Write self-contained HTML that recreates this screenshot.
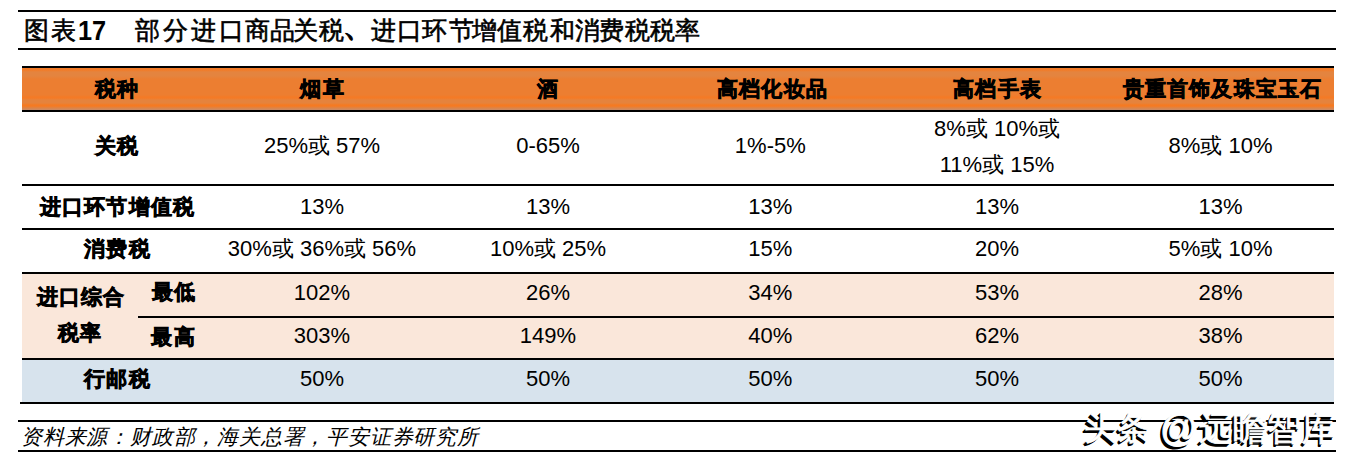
<!DOCTYPE html>
<html><head><meta charset="utf-8">
<style>
html,body{margin:0;padding:0;background:#fff;}
body{width:1346px;height:461px;position:relative;overflow:hidden;font-family:"Liberation Sans",sans-serif;color:#000;}
.ln{position:absolute;}
.c{position:absolute;height:40px;display:flex;align-items:center;justify-content:center;white-space:nowrap;}
.d{font-size:22px;}
.h{font-size:21px;font-weight:bold;-webkit-text-stroke:0.7px #000;letter-spacing:1.1px;text-indent:1.1px}
.two{height:73px;line-height:36px;text-align:center;display:block;padding-top:0px}
.title{position:absolute;font-size:25px;font-weight:400;-webkit-text-stroke:0.6px #000;white-space:nowrap;line-height:28px}
.b17{font-weight:bold;font-size:27.5px;-webkit-text-stroke:0;transform:scaleX(0.92);transform-origin:0 0}
.src{position:absolute;font-size:21px;font-style:italic;white-space:nowrap;line-height:26px;letter-spacing:0.8px}
.wm{position:absolute;font-size:33px;color:#fff;white-space:nowrap;line-height:40px;-webkit-text-stroke:0.8px #fff;text-shadow:-1px 1px 0 #000,-2px 2px 0 #000,-2.5px 2.5px 0.5px #000;}
.at{transform:scale(1.12,1.17);transform-origin:0 50%}
</style></head><body>
<div class="ln" style="left:18px;top:10px;width:1318px;height:2px;background:#000"></div>
<div class="ln" style="left:18px;top:48px;width:1318px;height:2px;background:#000"></div>
<div class="title" style="left:23.5px;top:16.2px">图</div>
<div class="title" style="left:51.2px;top:16.2px">表</div>
<div class="title b17" style="left:78.2px;top:16.8px">17</div>
<div class="title" style="left:135.3px;top:16.2px">部</div>
<div class="title" style="left:163.0px;top:16.2px">分</div>
<div class="title" style="left:191.3px;top:16.2px">进</div>
<div class="title" style="left:218.6px;top:16.2px">口</div>
<div class="title" style="left:245.2px;top:16.2px">商</div>
<div class="title" style="left:269.9px;top:16.2px">品</div>
<div class="title" style="left:293.3px;top:16.2px">关</div>
<div class="title" style="left:318.5px;top:16.2px">税</div>
<div class="title" style="left:343.2px;top:14.4px;transform:scale(1.4);transform-origin:2px 26px">、</div>
<div class="title" style="left:371.3px;top:16.2px">进</div>
<div class="title" style="left:397.1px;top:16.2px">口</div>
<div class="title" style="left:421.8px;top:16.2px">环</div>
<div class="title" style="left:449.0px;top:16.2px">节</div>
<div class="title" style="left:471.6px;top:16.2px">增</div>
<div class="title" style="left:497.4px;top:16.2px">值</div>
<div class="title" style="left:523.1px;top:16.2px">税</div>
<div class="title" style="left:549.8px;top:16.2px">和</div>
<div class="title" style="left:574.8px;top:16.2px">消</div>
<div class="title" style="left:598.8px;top:16.2px">费</div>
<div class="title" style="left:625.1px;top:16.2px">税</div>
<div class="title" style="left:649.6px;top:16.2px">税</div>
<div class="title" style="left:675.0px;top:16.2px">率</div>
<div class="ln" style="left:22px;top:66px;width:1312px;height:2px;background:#000"></div>
<div class="ln" style="left:22px;top:68px;width:1312px;height:42px;background:linear-gradient(#F27B28 0px,#F27B28 2px,#E4843F 4px,#E4843F 8px,#EC7E31 11px,#EC7E31 27px,#F47A26 29px,#F47A26 30px,#E5833D 32px,#E5833D 35px,#F57A22 37px,#F57A22 38px,#D28858 41px,#C98A66 42px)"></div>
<div class="ln" style="left:22px;top:110px;width:1312px;height:2px;background:#000"></div>
<div class="c h" style="left:23.5px;top:69px;width:186px">税种</div>
<div class="c h" style="left:208px;top:69px;width:228px">烟草</div>
<div class="c h" style="left:436px;top:69px;width:224px">酒</div>
<div class="c h" style="left:660px;top:69px;width:224px">高档化妆品</div>
<div class="c h" style="left:884px;top:69px;width:226px">高档手表</div>
<div class="c h" style="left:1110px;top:69px;width:224px">贵重首饰及珠宝玉石</div>
<div class="c h" style="left:23.5px;top:126px;width:186px">关税</div>
<div class="c d" style="left:208px;top:126px;width:228px">25%或 57%</div>
<div class="c d" style="left:436px;top:126px;width:224px">0-65%</div>
<div class="c d" style="left:658.3px;top:126px;width:224px">1%-5%</div>
<div class="c d two" style="left:884px;top:111px;width:226px">8%或 10%或<br>11%或 15%</div>
<div class="c d" style="left:1108.5px;top:126px;width:224px">8%或 10%</div>
<div class="ln" style="left:22px;top:184px;width:1312px;height:2px;background:#000"></div>
<div class="c h" style="left:24px;top:187px;width:186px">进口环节增值税</div>
<div class="c d" style="left:208px;top:187px;width:228px">13%</div>
<div class="c d" style="left:436px;top:187px;width:224px">13%</div>
<div class="c d" style="left:658.3px;top:187px;width:224px">13%</div>
<div class="c d" style="left:884px;top:187px;width:226px">13%</div>
<div class="c d" style="left:1108.5px;top:187px;width:224px">13%</div>
<div class="ln" style="left:22px;top:228px;width:1312px;height:2px;background:#000"></div>
<div class="c h" style="left:24px;top:228.7px;width:186px">消费税</div>
<div class="c d" style="left:208px;top:228.7px;width:228px">30%或 36%或 56%</div>
<div class="c d" style="left:436px;top:228.7px;width:224px">10%或 25%</div>
<div class="c d" style="left:658.3px;top:228.7px;width:224px">15%</div>
<div class="c d" style="left:884px;top:228.7px;width:226px">20%</div>
<div class="c d" style="left:1108.5px;top:228.7px;width:224px">5%或 10%</div>
<div class="ln" style="left:22px;top:272px;width:1312px;height:2px;background:#000"></div>
<div class="ln" style="left:22px;top:274px;width:1312px;height:84px;background:#FAE7DA"></div>
<div class="ln" style="left:138px;top:316px;width:1196px;height:2px;background:#000"></div>
<div class="c h" style="left:20.5px;top:278.8px;width:116px;line-height:36px;height:76px;display:block;text-align:center;padding-left:2px">进口综合<br>税率</div>
<div class="c h" style="left:138.5px;top:272px;width:70px">最低</div>
<div class="c h" style="left:138px;top:317px;width:70px">最高</div>
<div class="c d" style="left:208px;top:273px;width:228px">102%</div>
<div class="c d" style="left:436px;top:273px;width:224px">26%</div>
<div class="c d" style="left:658.3px;top:273px;width:224px">34%</div>
<div class="c d" style="left:884px;top:273px;width:226px">53%</div>
<div class="c d" style="left:1108.5px;top:273px;width:224px">28%</div>
<div class="c d" style="left:208px;top:316px;width:228px">303%</div>
<div class="c d" style="left:436px;top:316px;width:224px">149%</div>
<div class="c d" style="left:658.3px;top:316px;width:224px">40%</div>
<div class="c d" style="left:884px;top:316px;width:226px">62%</div>
<div class="c d" style="left:1108.5px;top:316px;width:224px">38%</div>
<div class="ln" style="left:22px;top:358px;width:1312px;height:2px;background:#000"></div>
<div class="ln" style="left:22px;top:360px;width:1312px;height:42px;background:#D7E3ED"></div>
<div class="c h" style="left:24px;top:359px;width:186px">行邮税</div>
<div class="c d" style="left:208px;top:359px;width:228px">50%</div>
<div class="c d" style="left:436px;top:359px;width:224px">50%</div>
<div class="c d" style="left:658.3px;top:359px;width:224px">50%</div>
<div class="c d" style="left:884px;top:359px;width:226px">50%</div>
<div class="c d" style="left:1108.5px;top:359px;width:224px">50%</div>
<div class="ln" style="left:20px;top:402px;width:1314px;height:2px;background:#000"></div>
<div class="ln" style="left:18px;top:420px;width:1318px;height:2px;background:#000"></div>
<div class="ln" style="left:18px;top:450px;width:1318px;height:2px;background:#000"></div>
<div class="src" style="left:21px;top:423.5px">资料来源：财政部，海关总署，平安证券研究所</div>
<div class="wm" style="left:1083.5px;top:407.5px;letter-spacing:0.5px">头条</div>
<div class="wm at" style="left:1160px;top:408px">@</div>
<div class="wm" style="left:1198.5px;top:408px;font-size:34px;letter-spacing:0.3px">远瞻智库</div>
</body></html>
